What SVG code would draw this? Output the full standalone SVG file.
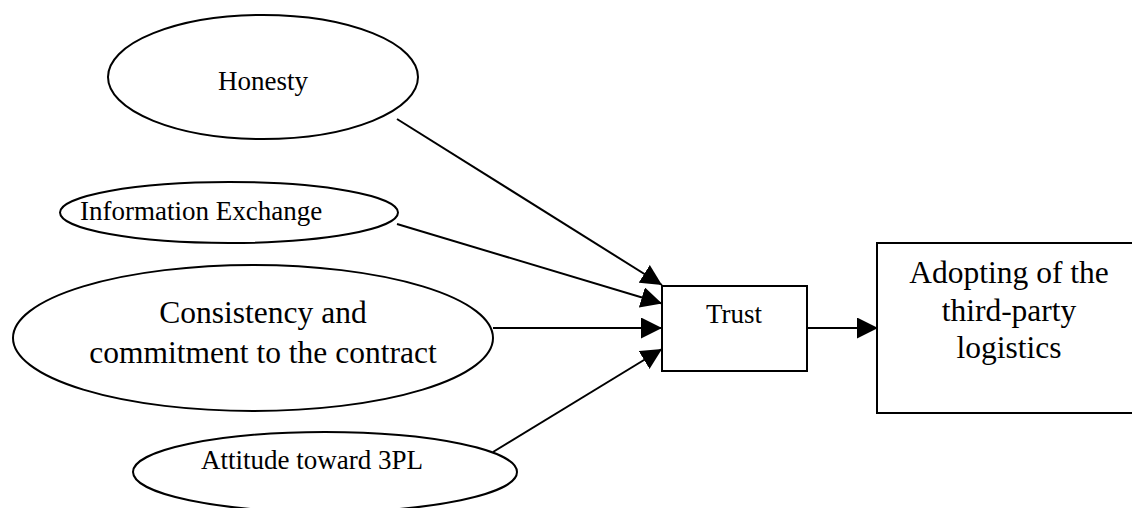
<svg xmlns="http://www.w3.org/2000/svg" width="1132" height="508" viewBox="0 0 1132 508">
<style>
.shape{fill:#fff;stroke:#000;stroke-width:2}
.conn{stroke:#000;stroke-width:2;fill:none}
.t{font-family:"Liberation Serif","Times New Roman",serif;fill:#000}
.s{font-size:27px}
.l{font-size:31.5px}
</style>
<defs>
<marker id="arr" markerUnits="userSpaceOnUse" markerWidth="21" markerHeight="21" refX="21" refY="10.5" orient="auto">
<path d="M0,0 L21,10.5 L0,21 z" fill="#000"/>
</marker>
</defs>
<rect width="1132" height="508" fill="#fff"/>
<g id="connectors">
<line class="conn" x1="397" y1="119" x2="662" y2="285" marker-end="url(#arr)"/>
<line class="conn" x1="397" y1="224" x2="662" y2="303.5" marker-end="url(#arr)"/>
<line class="conn" x1="493" y1="328" x2="662" y2="328" marker-end="url(#arr)"/>
<line class="conn" x1="493" y1="452" x2="662" y2="349" marker-end="url(#arr)"/>
<line class="conn" x1="807" y1="328" x2="878" y2="328" marker-end="url(#arr)"/>
</g>
<g id="honesty">
<ellipse class="shape" cx="263" cy="77" rx="155" ry="62"/>
<text class="t s" x="263" y="90" text-anchor="middle">Honesty</text>
</g>
<g id="info">
<ellipse class="shape" cx="229" cy="212.5" rx="169" ry="30.5"/>
<text class="t s" x="80" y="220">Information Exchange</text>
</g>
<g id="consistency">
<ellipse class="shape" cx="253" cy="338" rx="240" ry="73"/>
<text class="t l" x="263" y="323" text-anchor="middle">Consistency and</text>
<text class="t l" x="263" y="363" text-anchor="middle">commitment to the contract</text>
</g>
<g id="attitude">
<ellipse class="shape" cx="325" cy="472" rx="192" ry="40"/>
<text class="t s" x="312" y="469" text-anchor="middle">Attitude toward 3PL</text>
</g>
<g id="trust">
<rect class="shape" x="662" y="286" width="145" height="85"/>
<text class="t s" x="734" y="323" text-anchor="middle">Trust</text>
</g>
<g id="adopting">
<rect class="shape" x="877" y="243" width="270" height="170"/>
<text class="t l" x="1009" y="283" text-anchor="middle">Adopting of the</text>
<text class="t l" x="1009" y="320.5" text-anchor="middle">third-party</text>
<text class="t l" x="1009" y="358" text-anchor="middle">logistics</text>
</g>
</svg>
